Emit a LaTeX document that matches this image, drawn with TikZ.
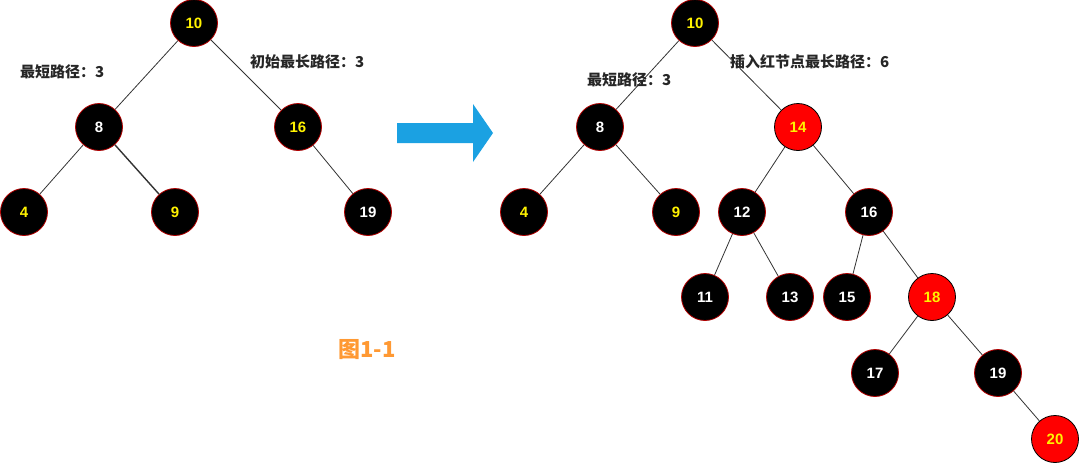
\documentclass[tikz,border=0pt]{standalone}
\usepackage{fontspec}
\setmainfont{Liberation Sans}
\newfontfamily\cjk{Noto Sans CJK SC}
\usetikzlibrary{arrows.meta}
\definecolor{nodeborder}{HTML}{B20000}
\definecolor{arrowblue}{HTML}{1BA1E2}
\definecolor{figorange}{HTML}{FF9933}
\definecolor{edgegray}{HTML}{333333}
\tikzset{
  bnode/.style={circle,fill=black,draw=nodeborder,line width=0.8pt,minimum size=47pt,inner sep=0pt,font=\fontsize{15}{15}\selectfont\bfseries},
  rnode/.style={circle,fill=red,draw=black,line width=0.8pt,minimum size=47pt,inner sep=0pt,font=\fontsize{15}{15}\selectfont\bfseries},
  ytxt/.style={text=yellow},
  wtxt/.style={text=white},
  edge/.style={draw=edgegray,line width=0.8pt},
  lbl/.style={font=\cjk\fontsize{15}{15}\selectfont\bfseries,text=black!85,inner sep=0pt,anchor=west},
}
\begin{document}
\begin{tikzpicture}[x=1pt,y=-1pt]
\useasboundingbox (0,0) rectangle (1080,464);
% left tree
\node[bnode,ytxt] (L10) at (194,23) {10};
\node[bnode,wtxt] (L8) at (99,127) {8};
\node[bnode,ytxt] (L16) at (298,127) {16};
\node[bnode,ytxt] (L4) at (24,212) {4};
\node[bnode,ytxt] (L9) at (175,212) {9};
\node[bnode,wtxt] (L19) at (368,212) {19};
\draw[edge] (L10) -- (L8);
\draw[edge] (L10) -- (L16);
\draw[edge] (L8) -- (L4);
\draw[edge,line width=1.4pt] (L8) -- (L9);
\draw[edge] (L16) -- (L19);
\node[lbl] (Lshort) at (20,72) {最短路径：3};
\node[lbl] (Llong) at (250,62) {初始最长路径：3};
% arrow
\fill[arrowblue] (397,123) -- (473,123) -- (473,104) -- (493,133) -- (473,162) -- (473,143) -- (397,143) -- cycle;
% caption
\node[font=\cjk\fontsize{22}{22}\selectfont\bfseries,text=figorange,inner sep=0pt] (cap) at (367,350) {图1-1};
% right tree
\node[bnode,ytxt] (R10) at (695,23) {10};
\node[bnode,wtxt] (R8) at (600,127) {8};
\node[rnode,ytxt] (R14) at (798,127) {14};
\node[bnode,ytxt] (R4) at (524,212) {4};
\node[bnode,ytxt] (R9) at (676,212) {9};
\node[bnode,wtxt] (R12) at (742,212) {12};
\node[bnode,wtxt] (R16) at (869,212) {16};
\node[bnode,wtxt] (R11) at (705,297) {11};
\node[bnode,wtxt] (R13) at (790,297) {13};
\node[bnode,wtxt] (R15) at (847,297) {15};
\node[rnode,ytxt] (R18) at (932,297) {18};
\node[bnode,wtxt] (R17) at (875,373) {17};
\node[bnode,wtxt] (R19) at (998,373) {19};
\node[rnode,ytxt] (R20) at (1055,439) {20};
\draw[edge] (R10) -- (R8);
\draw[edge] (R10) -- (R14);
\draw[edge] (R8) -- (R4);
\draw[edge] (R8) -- (R9);
\draw[edge] (R14) -- (R12);
\draw[edge] (R14) -- (R16);
\draw[edge] (R12) -- (R11);
\draw[edge] (R12) -- (R13);
\draw[edge] (R16) -- (R15);
\draw[edge] (R16) -- (R18);
\draw[edge] (R18) -- (R17);
\draw[edge] (R18) -- (R19);
\draw[edge] (R19) -- (R20);
\node[lbl] (Rshort) at (587,80) {最短路径：3};
\node[lbl] (Rlong) at (730,62) {插入红节点最长路径：6};
\end{tikzpicture}
\end{document}
